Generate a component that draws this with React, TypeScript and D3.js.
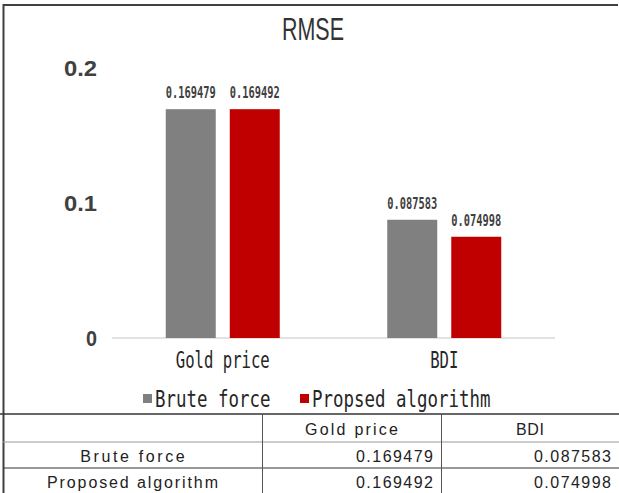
import { scaleBand, scaleLinear } from "d3";

const categories = ["Gold price", "BDI"];
const seriesNames = ["Brute force", "Propsed algorithm"];
const tableRowNames = ["Brute force", "Proposed algorithm"];
const bruteForce = [0.169479, 0.087583];
const proposed = [0.169492, 0.074998];
const yTicks = [0, 0.1, 0.2];
const yTickLabels = ["0", "0.1", "0.2"];
const colors = ["#808080", "#C00000"];

const W = 619;
const H = 493;

function App() {
  const values = [bruteForce, proposed];

  const x0 = scaleBand().domain(categories).range([112, 555]).paddingInner(0);
  const x1 = scaleBand().domain(seriesNames).range([0, 114]).paddingInner(0.219);
  const groupOff = (x0.bandwidth() - 114) / 2;
  const y = scaleLinear().domain([0, 0.2]).range([338, 68]);

  const mono = "'DejaVu Sans Mono', monospace";
  const sans = "'Liberation Sans', Arial, sans-serif";

  // table geometry
  const colX = [3, 262, 441, 619];
  const rowY = [414, 442, 468, 494];

  return (
    <svg width={W} height={H} style={{ position: "absolute", left: 0, top: 0, background: "#fff" }}>
      <rect x={0} y={0} width={W} height={H} fill="#fff" />
      {/* frame */}
      <line x1={3} x2={618} y1={5} y2={5} stroke="#404040" strokeWidth={2} />
      <line x1={3.5} x2={3.5} y1={4} y2={H} stroke="#404040" strokeWidth={2} />

      <text x={313} y={40} textAnchor="middle" fontFamily={sans} fontSize={31}
        fill="#333" textLength={62} lengthAdjust="spacingAndGlyphs">RMSE</text>

      {/* y labels */}
      {yTicks.map((t, i) => (
        <text key={t} x={97} y={y(t) + 8} textAnchor="end" fontFamily={sans} fontWeight="bold"
          fontSize={22} fill="#404040" textLength={yTickLabels[i].length * 11}
          lengthAdjust="spacingAndGlyphs">{yTickLabels[i]}</text>
      ))}

      {/* baseline */}
      <line x1={112} x2={555} y1={y(0)} y2={y(0)} stroke="#d9d9d9" strokeWidth={1.5} />

      {/* bars */}
      {categories.map((c, ci) => (
        <g key={c} transform={`translate(${x0(c)! + groupOff},0)`}>
          {seriesNames.map((s, si) => {
            const v = values[si][ci];
            const bx = x1(s)!;
            return (
              <g key={s}>
                <rect x={bx} y={y(v)} width={x1.bandwidth()} height={y(0) - y(v)} fill={colors[si]} />
                <text transform={`translate(${bx + x1.bandwidth() / 2},${y(v) - 11}) scale(1,1.2)`}
                  textAnchor="middle" fontFamily={mono}
                  fontWeight="bold" fontSize={12.5} fill="#404040" textLength={50}
                  lengthAdjust="spacingAndGlyphs">{v.toFixed(6)}</text>
              </g>
            );
          })}
        </g>
      ))}

      {/* x labels */}
      {categories.map((c) => (
        <text key={c} x={x0(c)! + x0.bandwidth() / 2} y={368} textAnchor="middle" fontFamily={mono}
          fontSize={23} fill="#262626" textLength={c.length * 9.4}
          lengthAdjust="spacingAndGlyphs">{c}</text>
      ))}

      {/* legend */}
      {seriesNames.map((s, i) => {
        const lx = i === 0 ? 143 : 300;
        return (
          <g key={s}>
            <rect x={lx} y={394} width={9} height={9} fill={colors[i]} />
            <text x={lx + 12} y={407} fontFamily={mono} fontSize={23} fill="#262626"
              textLength={s.length * 10.5} lengthAdjust="spacingAndGlyphs">{s}</text>
          </g>
        );
      })}

      {/* table */}
      <line x1={0} x2={W} y1={rowY[0]} y2={rowY[0]} stroke="#333" strokeWidth={1.5} />
      <line x1={3} x2={W} y1={rowY[1]} y2={rowY[1]} stroke="#999" strokeWidth={1} />
      <line x1={3} x2={W} y1={rowY[2]} y2={rowY[2]} stroke="#333" strokeWidth={1} />
      {[colX[1], colX[2]].map((cx) => (
        <line key={cx} x1={cx + 0.5} x2={cx + 0.5} y1={rowY[0]} y2={H} stroke="#555" strokeWidth={1} />
      ))}
      {categories.map((c, i) => (
        <text key={c} x={(colX[i + 1] + colX[i + 2]) / 2} y={rowY[0] + 21} textAnchor="middle"
          fontFamily={sans} fontSize={16} fill="#222"
          textLength={c.length * 9.3} lengthAdjust="spacing">{c}</text>
      ))}
      {tableRowNames.map((r, ri) => (
        <g key={r}>
          <text x={(colX[0] + colX[1]) / 2} y={rowY[ri + 1] + 20} textAnchor="middle" fontFamily={sans}
            fontSize={16} fill="#222" textLength={r.length * 9.5} lengthAdjust="spacing">{r}</text>
          {categories.map((c, ci) => (
            <text key={c} x={colX[ci + 2] - 8} y={rowY[ri + 1] + 20} textAnchor="end" fontFamily={sans}
              fontSize={16} fill="#222" textLength={77} lengthAdjust="spacing">
              {values[ri][ci].toFixed(6)}
            </text>
          ))}
        </g>
      ))}
    </svg>
  );
}

export default App;
